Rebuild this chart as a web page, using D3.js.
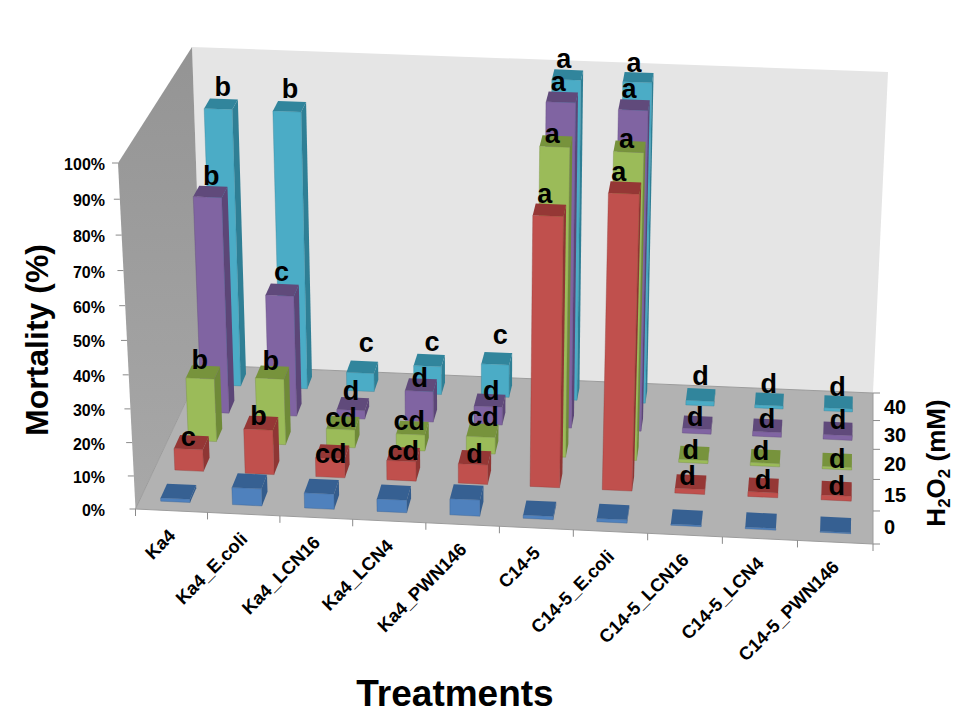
<!DOCTYPE html>
<html><head><meta charset="utf-8">
<script src="https://cdn.jsdelivr.net/npm/d3@7"></script>
<style>html,body{margin:0;background:#fff}svg{display:block}text{font-family:"Liberation Sans",Arial,sans-serif;font-weight:bold;fill:#000}</style>
</head><body><svg id="c" width="960" height="720"></svg>
<script>
const categories=["Ka4","Ka4_E.coli","Ka4_LCN16","Ka4_LCN4","Ka4_PWN146","C14-5","C14-5_E.coli","C14-5_LCN16","C14-5_LCN4","C14-5_PWN146"];
const concentrations=["0","15","20","30","40"];
const percentTicks=[0,10,20,30,40,50,60,70,80,90,100];
const values0=[1,5.2,4.6,3.8,4.9,1,1,0.4,0.5,0.3];
const values15=[6.7,13.7,5.8,6,6,80.5,87.7,1.5,1.5,1.5];
const values20=[19.6,20.5,5.6,5,5.2,93,92.3,1,1,0.8];
const values30=[67,37.8,2.7,9.7,5.7,99,97.5,1.5,1.5,1.5];
const values40=[86.5,86.5,5.9,9,10.5,99,99,1.5,1,1];
const letters15=["c","b","cd","cd","d","a","a","d","d","d"];
const letters20=["b","b","cd","cd","cd","a","a","d","d","d"];
const letters30=["b","c","d","d","d","a","a","d","d","d"];
const letters40=["b","b","c","c","c","a","a","d","d","d"];

const seriesList=[
 {values:values40,letters:letters40,front:"#4bacc6",top:"#31859c",side:"#2f7f95"},
 {values:values30,letters:letters30,front:"#8064a2",top:"#604a7b",side:"#5c4677"},
 {values:values20,letters:letters20,front:"#9bbb59",top:"#77933c",side:"#6f8a38"},
 {values:values15,letters:letters15,front:"#c0504d",top:"#953735",side:"#8f3634"},
 {values:values0,letters:null,front:"#4f81bd",top:"#366092",side:"#345c8c"}
];
const concOf=[ "40","30","20","15","0"];

const svg=d3.select("#c");
const cx=d3.scaleBand().domain(categories).range([0,1]);
const cz=d3.scaleBand().domain(concentrations).range([0,1]);
const cy=d3.scaleLinear().domain([0,100]).range([0,1]);

// cube corners on the page (Front/Back, Left/Right, Bottom/Top)
const FLB=[135.5,509],FRB=[873,544],BRB=[873,393],BLB=[203,365],
      FLT=[118,163],FRT=[896,194],BRT=[888,72],BLT=[192,47];
const warp=(t,k)=>t*(1+k)/(1+k*t);
const lerp=(a,b,t)=>[a[0]+(b[0]-a[0])*t,a[1]+(b[1]-a[1])*t];
function project(u,v,h){
  const U=warp(u,-0.026),V=warp(v,0.12),H=warp(h,-0.05);
  const fb=lerp(FLB,FRB,U),bb=lerp(BLB,BRB,U),ft=lerp(FLT,FRT,U),bt=lerp(BLT,BRT,U);
  return lerp(lerp(fb,bb,V),lerp(ft,bt,V),H);
}
const poly=pts=>pts.map(p=>p.map(n=>n.toFixed(2)).join(",")).join(" ");

const defs=svg.append("defs");
const g1=defs.append("linearGradient").attr("id","lw").attr("x1",0).attr("y1",0).attr("x2",0).attr("y2",1);
g1.append("stop").attr("offset",0).attr("stop-color","#949494");
g1.append("stop").attr("offset",1).attr("stop-color","#a8a8a8");

// walls and floor
svg.append("polygon").attr("points",poly([project(0,1,0),project(1,1,0),project(1,1,1),project(0,1,1)])).attr("fill","#e5e5e5");
svg.append("polygon").attr("points",poly([project(0,0,0),project(0,1,0),project(0,1,1),project(0,0,1)])).attr("fill","url(#lw)");
svg.append("polygon").attr("points",poly([project(0,0,0),project(1,0,0),project(1,1,0),project(0,1,0)])).attr("fill","#b2b2b2").attr("stroke","#9c9c9c").attr("stroke-width",1);

const axisStroke="#8a8a8a";
// value axis
percentTicks.forEach(t=>{
  const p=project(0,0,cy(t));
  svg.append("line").attr("x1",p[0]-6).attr("x2",p[0]).attr("y1",p[1]).attr("y2",p[1]).attr("stroke",axisStroke);
  svg.append("text").attr("x",105).attr("y",p[1]+7).attr("text-anchor","end").attr("font-size",16).text(t+"%");
});
// category axis
const catEdges=categories.map(c=>cx(c)).concat([1]);
catEdges.forEach(u=>{
  const p=project(u,0,0);
  svg.append("line").attr("x1",p[0]).attr("x2",p[0]).attr("y1",p[1]).attr("y2",p[1]+7).attr("stroke",axisStroke);
});
categories.forEach(c=>{
  const p=project(cx(c)+cx.bandwidth()/2,0,0);
  svg.append("text").attr("transform",`translate(${p[0]+5},${p[1]+26}) rotate(-45)`).attr("text-anchor","end").attr("font-size",18.3).text(c);
});
// depth axis
const depthEdges=concentrations.map(c=>cz(c)).concat([1]);
depthEdges.forEach(v=>{
  const p=project(1,v,0);
  svg.append("line").attr("x1",p[0]).attr("x2",p[0]+7).attr("y1",p[1]).attr("y2",p[1]).attr("stroke",axisStroke);
});
concentrations.forEach(c=>{
  const p=project(1,cz(c)+cz.bandwidth()/2,0);
  svg.append("text").attr("x",p[0]+11).attr("y",p[1]+7).attr("font-size",20).text(c);
});

// bars, back to front
const barU=0.0205,barV=0.045;
// per-label hand placement relative to each bar's top, one row per labelled series
const nudgeX=[[-3,-4,0,-1,0,-7,-7,-3,-3,-3],[-4,-5,-6,-5,-2,-7,-8,-5,-3,-2],[-8,-6,-6,-7,-3,-7,-6,-6,-7,-2],[-8,-7,-6,-4,-4,-8,-9,-6,-3,-2]];
const nudgeY=[[-1,-2,-15,-10,-15,0,1,-10,-6,-6],[0,-1,-4,2,-1,1,0,3,2,0],[-3,-2,4,2,-4,9,9,6,4,8],[4,2,12,6,6,0,1,4,4,7]];
const labels=[];
seriesList.forEach((s,si)=>{
  const zc=cz(concOf[si])+cz.bandwidth()/2;
  s.values.forEach((val,i)=>{
    const uc=cx(categories[i])+cx.bandwidth()/2, h=cy(val);
    const u0=uc-barU,u1=uc+barU,v0=zc-barV,v1=zc+barV;
    const g=svg.append("g");
    g.append("polygon").attr("points",poly([project(u1,v0,0),project(u1,v1,0),project(u1,v1,h),project(u1,v0,h)])).attr("fill",s.side);
    g.append("polygon").attr("points",poly([project(u0,v0,h),project(u1,v0,h),project(u1,v1,h),project(u0,v1,h)])).attr("fill",s.top);
    g.append("polygon").attr("points",poly([project(u0,v0,0),project(u1,v0,0),project(u1,v0,h),project(u0,v0,h)])).attr("fill",s.front).attr("stroke",s.side).attr("stroke-width",0.5).attr("stroke-opacity",.7);
    if(s.letters){
      const p=project(uc,zc+0.042,h);
      labels.push({x:p[0]+2+nudgeX[si][i],y:p[1]+(val>30?-2:6)+nudgeY[si][i],t:s.letters[i]});
    }
  });
});
svg.append("g").selectAll("text").data(labels).join("text")
  .attr("x",d=>d.x).attr("y",d=>d.y).attr("text-anchor","middle").attr("font-size",27).text(d=>d.t);

// titles
svg.append("text").attr("transform","translate(48,340) rotate(-90)").attr("text-anchor","middle").attr("font-size",32).text("Mortality (%)");
svg.append("text").attr("x",455).attr("y",706).attr("text-anchor","middle").attr("font-size",37).text("Treatments");
const ht=svg.append("text").attr("transform","translate(945,463) rotate(-90)").attr("text-anchor","middle").attr("font-size",26);
ht.append("tspan").text("H");
ht.append("tspan").attr("font-size",17).attr("dy",5).text("2");
ht.append("tspan").attr("dy",-5).text("O");
ht.append("tspan").attr("font-size",17).attr("dy",5).text("2");
ht.append("tspan").attr("dy",-5).text(" (mM)");
</script></body></html>
